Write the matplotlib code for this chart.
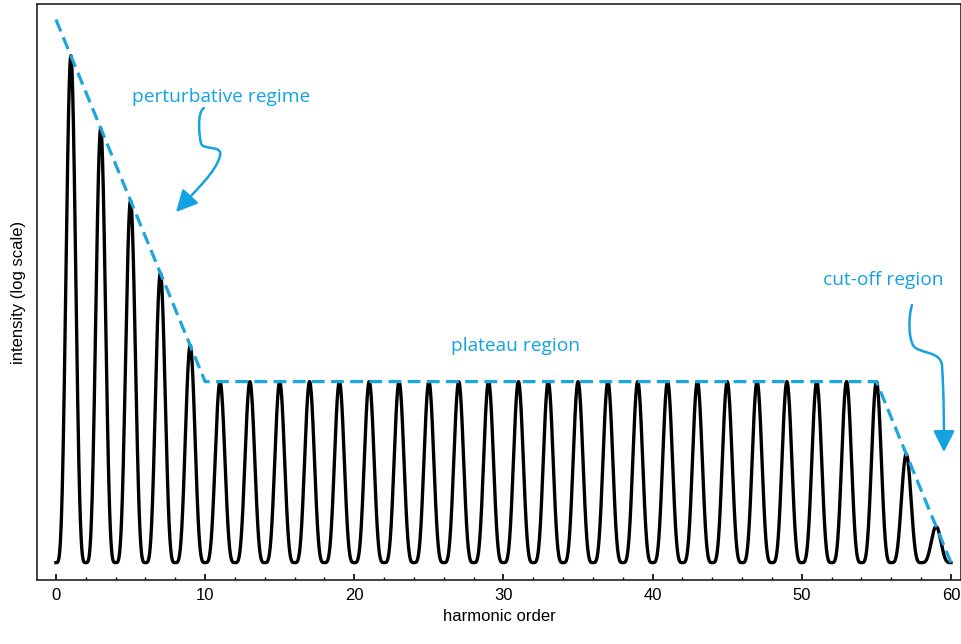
import numpy as np
import matplotlib
matplotlib.use("Agg")
import matplotlib.pyplot as plt
from matplotlib.path import Path
from matplotlib.patches import FancyArrowPatch

# Harmonic spectrum (odd orders only), peak intensities in log units
harmonic_orders = [1, 3, 5, 7, 9, 11, 13, 15, 17, 19, 21, 23, 25, 27, 29,
                   31, 33, 35, 37, 39, 41, 43, 45, 47, 49, 51, 53, 55, 57, 59]
peak_log_intensity = [14, 12, 10, 8, 6, 5, 5, 5, 5, 5, 5, 5, 5, 5, 5,
                      5, 5, 5, 5, 5, 5, 5, 5, 5, 5, 5, 5, 5, 3, 1]

# Envelope (dashed guide): perturbative fall-off, plateau, cut-off
envelope_x = [0, 10, 55, 60]
envelope_y = [15, 5, 5, 0]

x_ticks = [0, 10, 20, 30, 40, 50, 60]

BLUE = "#1BA6DE"
TEXT_BLUE = "#12A3E0"

fig = plt.figure(figsize=(9.62, 6.44), dpi=100)
ax = fig.add_axes([37 / 962, 1 - 580 / 644, (961 - 37) / 962, (580 - 4) / 644])

# Spectrum: each harmonic is a narrow lobe of width 2 centred on its order
x = np.linspace(0, 60, 6001)
y = np.zeros_like(x)
for q, h in zip(harmonic_orders, peak_log_intensity):
    d = x - q
    m = np.abs(d) <= 1
    y[m] += h * np.cos(np.pi * d[m] / 2) ** 4
ax.plot(x, y, color="black", lw=2.4, solid_joinstyle="round", zorder=3)

ax.plot(envelope_x, envelope_y, color=BLUE, lw=2.3, dashes=(4, 2), zorder=4)

ax.set_xlim(-1.27, 60.67)
ax.set_ylim(-0.48, 15.43)
ax.set_xticks(x_ticks)
ax.set_xticks(np.arange(0, 61, 2), minor=True)
ax.set_yticks([])
ax.tick_params(axis="x", which="major", direction="in", length=4, width=1.2,
               labelsize=12, pad=6, top=False)
ax.tick_params(axis="x", which="minor", direction="in", length=2.5, width=1.0,
               top=False)
for s in ax.spines.values():
    s.set_linewidth(1.2)
    s.set_color("#222222")

lab_font = {"family": "Liberation Sans", "size": 12}
for t in ax.get_xticklabels():
    t.set_fontfamily("Liberation Sans")
ax.set_xlabel("harmonic order", fontdict=lab_font, labelpad=4)
ax.set_ylabel("intensity (log scale)", fontdict=lab_font, labelpad=8)


def px(xp, yp):
    return ((xp - 56) / 14.917, (562.5 - yp) / 36.2)


ann_font = {"family": "Open Sans", "size": 13.8, "color": TEXT_BLUE}
ax.text(*px(221, 97), "perturbative regime", ha="center", va="center", **ann_font)
ax.text(*px(516, 346), "plateau region", ha="center", va="center", **ann_font)
ax.text(*px(883, 280), "cut-off region", ha="center", va="center", **ann_font)


def curly_arrow(points):
    verts = [px(*p) for p in points]
    codes = [Path.MOVETO] + [Path.CURVE4] * (len(verts) - 1)
    arrow = FancyArrowPatch(path=Path(verts, codes),
                            arrowstyle="-|>,head_length=13,head_width=6.5",
                            color=TEXT_BLUE, lw=1.8, zorder=5)
    ax.add_patch(arrow)


curly_arrow([(204, 108), (197, 112), (199, 135), (201, 143),
             (203, 151), (223, 144), (220, 156),
             (216, 172), (196, 190), (176, 212)])
curly_arrow([(912, 305), (908, 318), (909, 338), (913, 345),
             (918, 354), (940, 350), (942, 365),
             (944, 395), (944, 425), (944, 452)])

fig.savefig("out.png", dpi=100)
